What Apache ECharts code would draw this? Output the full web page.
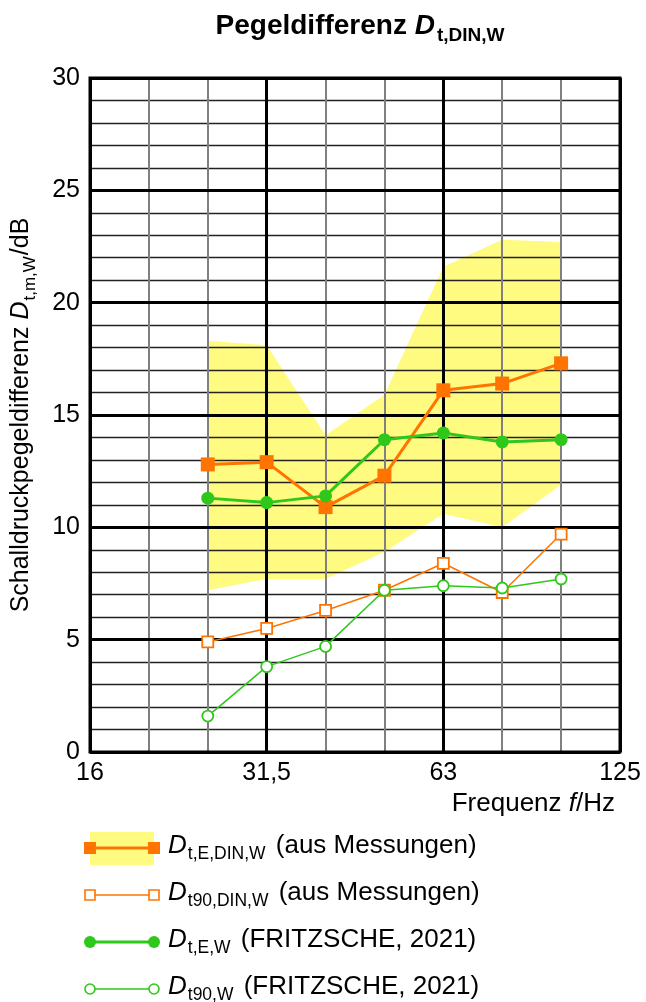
<!DOCTYPE html>
<html><head><meta charset="utf-8">
<script src="https://cdn.jsdelivr.net/npm/echarts@6/dist/echarts.min.js"></script>
<style>html,body{margin:0;padding:0;background:#fff}#c{width:646px;height:1002px}</style>
</head><body><div id="c"></div>
<script>
// ---- data ----
const categories = ['16','20','25','31,5','40','50','63','80','100','125'];
const tickLabels = ['16','31,5','63','125'];
const measFreqs = ['25','31,5','40','50','63','80','100'];
const dtEDin    = [12.8, 12.9, 10.9, 12.3, 16.1, 16.4, 17.3];
const dt90Din   = [4.9, 5.5, 6.3, 7.2, 8.4, 7.1, 9.7];
const dtEFritz  = [11.3, 11.1, 11.4, 13.9, 14.2, 13.8, 13.9];
const dt90Fritz = [1.6, 3.8, 4.7, 7.2, 7.4, 7.3, 7.7];
const bandUpper = [18.3, 18.1, 14.1, 15.9, 21.6, 22.8, 22.7];
const bandLower = [7.2, 7.7, 7.7, 8.9, 10.6, 10.0, 11.9];
const yTicksMajor = 5, yMax = 30;

const FONT = 'Liberation Sans, Arial, sans-serif';
const ORANGE = '#ff7300', GREEN = '#2ec81a', YELLOW = '#fffa80';

const pairs = arr => measFreqs.map((f, i) => [f, arr[i]]);

const chart = echarts.init(document.getElementById('c'), null, {renderer: 'canvas'});

const legendRows = [
  {sub: 't,E,DIN,W', rest: '(aus Messungen)', color: ORANGE, sym: 'rect', filled: true, band: true},
  {sub: 't90,DIN,W', rest: '(aus Messungen)', color: ORANGE, sym: 'rect', filled: false},
  {sub: 't,E,W', rest: '(FRITZSCHE, 2021)', color: GREEN, sym: 'circle', filled: true},
  {sub: 't90,W', rest: '(FRITZSCHE, 2021)', color: GREEN, sym: 'circle', filled: false}
];
const rowY = [848, 895, 942, 989];
const legendGraphics = [];
legendRows.forEach((r, k) => {
  const y = rowY[k];
  const ch = [];
  if (r.band) ch.push({type: 'rect', shape: {x: 90, y: y - 16, width: 64, height: 33}, style: {fill: YELLOW}});
  ch.push({type: 'line', shape: {x1: 90, y1: y, x2: 154, y2: y}, style: {stroke: r.color, lineWidth: r.filled ? 3 : 1.5}});
  [90, 154].forEach(x => {
    const fill = r.filled ? r.color : '#fff';
    if (r.sym === 'rect') {
      const s = r.filled ? 12 : 10;
      ch.push({type: 'rect', shape: {x: x - s/2, y: y - s/2, width: s, height: s}, style: {fill, stroke: r.color, lineWidth: r.filled ? 0 : 1.6}});
    } else {
      const s = r.filled ? 6 : 5;
      ch.push({type: 'circle', shape: {cx: x, cy: y, r: s}, style: {fill, stroke: r.color, lineWidth: r.filled ? 0 : 1.6}});
    }
  });
  ch.push({type: 'text', x: 168, y: y, style: {
    text: '{d|D}{s|' + r.sub + '}{n| ' + r.rest + '}',
    verticalAlign: 'middle', align: 'left',
    rich: {
      d: {fontSize: 26, fontStyle: 'italic', fontFamily: FONT, color: '#000', verticalAlign: 'bottom', padding: [0,0,5,0]},
      s: {fontSize: 17.5, fontFamily: FONT, color: '#000', verticalAlign: 'bottom', padding: [0,0,0,1]},
      n: {fontSize: 26, fontFamily: FONT, color: '#000', verticalAlign: 'bottom', padding: [0,0,5,3]}
    }
  }});
  legendGraphics.push({type: 'group', children: ch});
});

const option = {
  animation: false,
  backgroundColor: '#fff',
  title: {
    text: '{a|Pegeldifferenz }{d|D}{s|t,DIN,W}',
    left: 355, top: 7, textAlign: 'center',
    textStyle: {
      rich: {
        a: {fontSize: 28, fontWeight: 'bold', fontFamily: FONT, color: '#000', verticalAlign: 'bottom', padding: [0,0,5,0]},
        d: {fontSize: 28, fontWeight: 'bold', fontStyle: 'italic', fontFamily: FONT, color: '#000', verticalAlign: 'bottom', padding: [0,0,5,0]},
        s: {fontSize: 19, fontWeight: 'bold', fontFamily: FONT, color: '#000', verticalAlign: 'bottom', padding: [0,0,0,2]}
      }
    }
  },
  grid: {left: 90, right: 26, top: 78, bottom: 250, show: true, borderColor: '#000', borderWidth: 3,
         backgroundColor: 'transparent', z: 3, containLabel: false, outerBoundsMode: 'none'},
  xAxis: [
    {type: 'category', data: categories, boundaryGap: false, z: 0,
     axisLine: {show: false}, axisTick: {show: false},
     axisLabel: {interval: (i, v) => tickLabels.includes(v), fontSize: 25, fontFamily: FONT, color: '#000', margin: 9},
     splitLine: {show: true, interval: 0, lineStyle: {color: '#808080', width: 2}}},
    {type: 'category', data: categories, boundaryGap: false, position: 'bottom', z: 1,
     axisLine: {show: false}, axisTick: {show: false}, axisLabel: {show: false},
     splitLine: {show: true, interval: (i, v) => tickLabels.includes(v), lineStyle: {color: '#000', width: 3}}}
  ],
  yAxis: [
    {type: 'value', min: 0, max: yMax, interval: yTicksMajor, z: 1,
     axisLine: {show: false}, axisTick: {show: false},
     axisLabel: {fontSize: 25, fontFamily: FONT, color: '#000', margin: 10},
     splitLine: {show: true, lineStyle: {color: '#000', width: 3}},
     name: '{n|Schalldruckpegeldifferenz }{d|D}{s|t,m,W}{n|/dB}',
     nameLocation: 'middle', nameRotate: 90, nameGap: 51,
     nameTextStyle: {rich: {
       n: {fontSize: 25, fontFamily: FONT, color: '#000', verticalAlign: 'bottom', padding: [0,0,5,0]},
       d: {fontSize: 25, fontStyle: 'italic', fontFamily: FONT, color: '#000', verticalAlign: 'bottom', padding: [0,0,5,0]},
       s: {fontSize: 17, fontFamily: FONT, color: '#000', verticalAlign: 'bottom', padding: [0,1,0,1]}
     }}},
    {type: 'value', min: 0, max: yMax, interval: 1, position: 'right', z: 0,
     axisLine: {show: false}, axisTick: {show: false}, axisLabel: {show: false},
     splitLine: {show: true, lineStyle: {color: '#222', width: 1.3}}}
  ],
  graphic: [
    {type: 'text', right: 31, top: 791, style: {
      text: '{n|Frequenz }{i|f}{n|/Hz}',
      rich: {
        n: {fontSize: 26, fontFamily: FONT, color: '#000'},
        i: {fontSize: 26, fontStyle: 'italic', fontFamily: FONT, color: '#000'}
      }}},
    ...legendGraphics
  ],
  series: [
    {type: 'custom', name: 'band', z: -1, xAxisIndex: 0, yAxisIndex: 0,
     data: measFreqs.map((f, i) => [categories.indexOf(f), bandLower[i], bandUpper[i]]),
     encode: {x: 0, y: [1, 2]},
     renderItem: (params, api) => {
       if (params.dataIndex !== 0) return null;
       const up = [], lo = [];
       measFreqs.forEach((f, i) => {
         const xi = categories.indexOf(f);
         up.push(api.coord([xi, bandUpper[i]]));
         lo.push(api.coord([xi, bandLower[i]]));
       });
       return {type: 'polygon', shape: {points: up.concat(lo.reverse())}, style: {fill: YELLOW}};
     }},
    {type: 'line', name: 'Dt,E,DIN,W', data: pairs(dtEDin), z: 5,
     symbol: 'rect', symbolSize: 14, showSymbol: true,
     lineStyle: {color: ORANGE, width: 3}, itemStyle: {color: ORANGE}},
    {type: 'line', name: 'Dt90,DIN,W', data: pairs(dt90Din), z: 5,
     symbol: 'rect', symbolSize: 11,
     lineStyle: {color: ORANGE, width: 1.5}, itemStyle: {color: '#fff', borderColor: ORANGE, borderWidth: 1.8}},
    {type: 'line', name: 'Dt,E,W', data: pairs(dtEFritz), z: 6,
     symbol: 'circle', symbolSize: 13,
     lineStyle: {color: GREEN, width: 3}, itemStyle: {color: GREEN}},
    {type: 'line', name: 'Dt90,W', data: pairs(dt90Fritz), z: 6,
     symbol: 'circle', symbolSize: 11,
     lineStyle: {color: GREEN, width: 1.5}, itemStyle: {color: '#fff', borderColor: GREEN, borderWidth: 1.8}}
  ]
};
chart.setOption(option);
</script>
</body></html>
